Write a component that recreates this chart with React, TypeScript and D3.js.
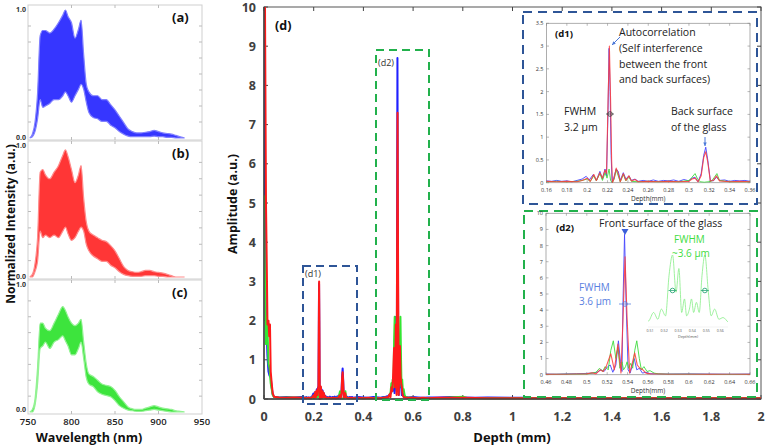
import React from 'react';
import * as d3 from 'd3';

// ---------- Spectra (a)-(c): envelope of the fringe band ----------
const wavelengths = [752, 755, 758, 761, 764, 767, 770, 775, 780, 785, 790, 793, 796, 800, 804, 808, 811, 814, 817, 820, 825, 830, 835, 840, 845, 850, 855, 860, 865, 870, 875, 880, 885, 890, 895, 900, 905, 910, 915, 920, 925, 930];
const blueUpper = [0, 0.03, 0.12, 0.35, 0.8, 0.84, 0.84, 0.82, 0.85, 0.9, 0.96, 1.0, 0.95, 0.9, 0.78, 0.85, 0.92, 0.65, 0.42, 0.36, 0.33, 0.33, 0.3, 0.3, 0.26, 0.22, 0.17, 0.12, 0.07, 0.05, 0.04, 0.04, 0.045, 0.05, 0.06, 0.05, 0.04, 0.035, 0.03, 0.02, 0.01, 0];
const blueLower = [0, 0.01, 0.05, 0.15, 0.3, 0.24, 0.25, 0.27, 0.3, 0.3, 0.33, 0.36, 0.33, 0.28, 0.33, 0.38, 0.42, 0.38, 0.28, 0.2, 0.16, 0.15, 0.13, 0.13, 0.1, 0.08, 0.05, 0.03, 0.015, 0.01, 0.01, 0.01, 0.01, 0.01, 0.015, 0.01, 0.01, 0.005, 0.005, 0, 0, 0];
const redUpper = [0, 0.02, 0.1, 0.3, 0.8, 0.82, 0.78, 0.75, 0.8, 0.85, 0.93, 0.97, 0.92, 0.82, 0.72, 0.78, 0.85, 0.6, 0.42, 0.35, 0.32, 0.3, 0.28, 0.27, 0.24, 0.2, 0.14, 0.08, 0.05, 0.04, 0.035, 0.04, 0.05, 0.05, 0.04, 0.035, 0.03, 0.02, 0.01, 0, 0, 0];
const redLower = [0, 0, 0.04, 0.12, 0.35, 0.3, 0.32, 0.3, 0.32, 0.3, 0.35, 0.38, 0.33, 0.28, 0.3, 0.35, 0.38, 0.35, 0.25, 0.2, 0.16, 0.14, 0.12, 0.12, 0.09, 0.07, 0.04, 0.02, 0.01, 0.005, 0.005, 0.005, 0.01, 0.01, 0.01, 0.005, 0.005, 0, 0, 0, 0, 0];
const greenUpper = [0, 0.02, 0.1, 0.35, 0.7, 0.7, 0.66, 0.64, 0.7, 0.77, 0.83, 0.8, 0.75, 0.7, 0.68, 0.7, 0.73, 0.55, 0.38, 0.3, 0.28, 0.25, 0.22, 0.21, 0.2, 0.17, 0.12, 0.08, 0.04, 0.025, 0.02, 0.02, 0.03, 0.04, 0.05, 0.04, 0.03, 0.025, 0.02, 0.01, 0.005, 0];
const greenLower = [0, 0, 0.05, 0.22, 0.5, 0.52, 0.55, 0.5, 0.55, 0.57, 0.6, 0.56, 0.52, 0.45, 0.45, 0.5, 0.55, 0.42, 0.27, 0.22, 0.2, 0.16, 0.14, 0.13, 0.12, 0.09, 0.05, 0.03, 0.015, 0.01, 0.005, 0.005, 0.01, 0.015, 0.02, 0.015, 0.01, 0.005, 0, 0, 0, 0];
const specXTicks = [750, 800, 850, 900, 950];
const specYTicks = [0, 1];
const specMinorTicks = [0.125, 0.25, 0.375, 0.5, 0.625, 0.75, 0.875];

// ---------- Depth profiles (mm, a.u.) ----------
const blueTrace: [number, number][] = [
  [0, 9.2], [0.004, 5], [0.008, 1.6], [0.011, 1.7], [0.014, 1.1], [0.018, 0.7], [0.022, 0.6], [0.027, 0.55], [0.031, 0.3], [0.035, 0.12], [0.04, 0.06], [0.06, 0.04], [0.09, 0.05], [0.12, 0.04], [0.15, 0.05],
  [0.16, 0.04], [0.165, 0.03], [0.17, 0.05], [0.175, 0.03], [0.18, 0.04], [0.185, 0.02], [0.19, 0.05], [0.195, 0.08], [0.199, 0.14], [0.202, 0.06], [0.206, 0.18], [0.209, 0.05], [0.2125, 0.25], [0.215, 0.08], [0.2175, 0.3], [0.219, 0.15], [0.2205, 1.6], [0.2215, 2.95], [0.2225, 2.0], [0.2235, 0.6], [0.2245, 0.0], [0.226, 0.1], [0.2285, 0.3], [0.2305, 0.25], [0.2325, 0.05], [0.2355, 0.22], [0.238, 0.08], [0.241, 0.15], [0.2435, 0.05], [0.247, 0.08], [0.25, 0.03], [0.255, 0.05], [0.26, 0.03], [0.265, 0.06], [0.27, 0.03], [0.275, 0.05], [0.28, 0.04], [0.285, 0.06], [0.29, 0.03], [0.295, 0.07], [0.3, 0.04], [0.303, 0.1], [0.306, 0.12], [0.309, 0.02], [0.312, 0.2], [0.3145, 0.6], [0.3165, 0.78], [0.3185, 0.5], [0.321, 0.05], [0.324, 0.04], [0.327, 0.12], [0.33, 0.05], [0.335, 0.06], [0.34, 0.03], [0.345, 0.05], [0.35, 0.04], [0.355, 0.05], [0.36, 0.03],
  [0.38, 0.05], [0.4, 0.04], [0.42, 0.03], [0.44, 0.05],
  [0.46, 0.04], [0.47, 0.03], [0.48, 0.05], [0.49, 0.06], [0.5, 0.08], [0.505, 0.1], [0.51, 0.15], [0.514, 0.3], [0.517, 0.2], [0.5205, 0.5], [0.523, 0.6], [0.5255, 0.15], [0.5285, 0.6], [0.531, 2.1], [0.533, 0.8], [0.5345, 0.2], [0.5355, 4.5], [0.537, 8.7], [0.5385, 4.5], [0.5405, 0.3], [0.5425, 0.1], [0.5448, 0.6], [0.5465, 1.0], [0.549, 0.3], [0.5515, 0.4], [0.5545, 0.1], [0.558, 0.15], [0.562, 0.06], [0.57, 0.05], [0.58, 0.04], [0.6, 0.05], [0.62, 0.04], [0.64, 0.03], [0.66, 0.04],
  [0.7, 0.04], [0.75, 0.05], [0.8, 0.04], [0.85, 0.03], [0.9, 0.04], [1.0, 0.03], [1.2, 0.03], [1.4, 0.02], [1.6, 0.03], [1.8, 0.02], [2.0, 0.02],
];
const redTrace: [number, number][] = [
  [0, 14], [0.004, 10], [0.008, 5], [0.011, 3.5], [0.014, 1.9], [0.018, 2.0], [0.021, 1.6], [0.024, 1.9], [0.027, 0.7], [0.031, 0.4], [0.035, 0.15], [0.04, 0.06], [0.06, 0.04], [0.09, 0.03], [0.12, 0.04], [0.15, 0.03],
  [0.16, 0.03], [0.17, 0.02], [0.18, 0.03], [0.19, 0.02], [0.195, 0.05], [0.2, 0.1], [0.203, 0.03], [0.2065, 0.18], [0.209, 0.05], [0.2125, 0.22], [0.215, 0.1], [0.2175, 0.28], [0.219, 0.2], [0.2205, 1.8], [0.2218, 3.0], [0.223, 1.8], [0.224, 0.5], [0.2248, 0.0], [0.2265, 0.1], [0.2285, 0.32], [0.2305, 0.2], [0.2325, 0.02], [0.2355, 0.2], [0.238, 0.05], [0.241, 0.15], [0.2435, 0.04], [0.247, 0.07], [0.25, 0.02], [0.26, 0.03], [0.27, 0.02], [0.28, 0.03], [0.29, 0.02], [0.3, 0.03], [0.303, 0.08], [0.306, 0.1], [0.309, 0.02], [0.312, 0.15], [0.3145, 0.55], [0.3165, 0.68], [0.3185, 0.45], [0.321, 0.04], [0.324, 0.05], [0.327, 0.15], [0.33, 0.04], [0.34, 0.02], [0.35, 0.03], [0.36, 0.02],
  [0.38, 0.03], [0.4, 0.02], [0.42, 0.03], [0.44, 0.02],
  [0.46, 0.02], [0.48, 0.03], [0.49, 0.04], [0.5, 0.05], [0.505, 0.12], [0.509, 0.05], [0.513, 0.3], [0.516, 0.2], [0.519, 0.5], [0.5235, 1.3], [0.527, 0.3], [0.5305, 1.9], [0.5335, 0.1], [0.5355, 3.5], [0.5375, 7.3], [0.5395, 3.5], [0.542, 0.1], [0.5445, 0.7], [0.547, 1.35], [0.5495, 0.6], [0.552, 0.4], [0.555, 0.3], [0.558, 0.1], [0.562, 0.05], [0.57, 0.04], [0.58, 0.03], [0.6, 0.03], [0.62, 0.02], [0.64, 0.03], [0.66, 0.02],
  [0.7, 0.03], [0.8, 0.03], [0.9, 0.02], [1.0, 0.02], [1.2, 0.02], [1.4, 0.02], [1.6, 0.02], [1.8, 0.02], [2.0, 0.02],
];
const greenTrace: [number, number][] = [
  [0, 5.2], [0.004, 3.0], [0.008, 1.4], [0.011, 2.1], [0.014, 1.8], [0.018, 0.9], [0.022, 0.8], [0.027, 0.4], [0.031, 0.25], [0.035, 0.1], [0.04, 0.05], [0.06, 0.03], [0.1, 0.04], [0.15, 0.03],
  [0.16, 0.02], [0.17, 0.03], [0.18, 0.02], [0.19, 0.03], [0.195, 0.05], [0.2, 0.08], [0.203, 0.03], [0.2065, 0.15], [0.209, 0.04], [0.2125, 0.2], [0.215, 0.05], [0.2175, 0.22], [0.2195, 0.1], [0.2215, 0.3], [0.223, 0.05], [0.2245, 0.0], [0.2265, 0.08], [0.2285, 0.28], [0.2305, 0.15], [0.2325, 0.02], [0.2355, 0.18], [0.238, 0.04], [0.241, 0.12], [0.2435, 0.03], [0.25, 0.02], [0.26, 0.03], [0.27, 0.02], [0.28, 0.03], [0.29, 0.02], [0.3, 0.05], [0.303, 0.12], [0.306, 0.2], [0.3085, 0.08], [0.311, 0.02], [0.315, 0.01], [0.319, 0.02], [0.322, 0.03], [0.325, 0.12], [0.3275, 0.2], [0.33, 0.05], [0.34, 0.02], [0.35, 0.02], [0.36, 0.02],
  [0.4, 0.02], [0.44, 0.02],
  [0.46, 0.02], [0.48, 0.03], [0.5, 0.04], [0.505, 0.1], [0.509, 0.15], [0.5125, 0.4], [0.5155, 0.2], [0.518, 0.5], [0.521, 0.3], [0.5235, 1.5], [0.526, 2.1], [0.5285, 1.0], [0.5305, 1.7], [0.5325, 0.4], [0.5345, 0.8], [0.536, 0.3], [0.538, 0.5], [0.5395, 0.8], [0.541, 0.4], [0.543, 0.7], [0.545, 0.4], [0.547, 1.5], [0.549, 2.1], [0.5515, 1.0], [0.5535, 0.3], [0.556, 0.5], [0.559, 0.2], [0.562, 0.25], [0.566, 0.1], [0.57, 0.05], [0.58, 0.03], [0.6, 0.03], [0.62, 0.02], [0.66, 0.02],
  [0.7, 0.02], [0.8, 0.06], [0.82, 0.02], [0.9, 0.02], [1.0, 0.02], [1.2, 0.02], [1.4, 0.02], [1.6, 0.02], [1.8, 0.02], [2.0, 0.02],
];

const mainXTicks = [0, 0.2, 0.4, 0.6, 0.8, 1, 1.2, 1.4, 1.6, 1.8, 2];
const mainYTicks = [0, 1, 2, 3, 4, 5, 6, 7, 8, 9, 10];
const d1XTicks = [0.16, 0.18, 0.2, 0.22, 0.24, 0.26, 0.28, 0.3, 0.32, 0.34, 0.36];
const d1YTicks = [0, 0.5, 1, 1.5, 2, 2.5, 3, 3.5];
const d2XTicks = [0.46, 0.48, 0.5, 0.52, 0.54, 0.56, 0.58, 0.6, 0.62, 0.64, 0.66];
const d2YTicks = [0, 1, 2, 3, 4, 5, 6, 7, 8, 9, 10];
const miniXTicks = [0.51, 0.52, 0.53, 0.54, 0.55, 0.56];

const FONT = "'Open Sans', 'Liberation Sans', sans-serif";
const fmt = (v: number) => String(+v.toFixed(2));

type Trace = { data: [number, number][]; color: string; width: number; opacity?: number };

function SpecPanel({ top, bottom, upper, lower, color, light, label, showX }: any) {
  const x = d3.scaleLinear().domain([750, 950]).range([28, 202]);
  const y = d3.scaleLinear().domain([0, 1]).range([bottom - 2, top + 5]);
  const rows = wavelengths.map((w, i) => ({ w, u: upper[i], l: lower[i] }));
  const area = d3.area<any>().x(d => x(d.w)).y0(d => y(d.l)).y1(d => y(d.u)).curve(d3.curveMonotoneX);
  return (
    <g>
      <rect x={28} y={top} width={174} height={bottom - top} fill="white" stroke="#cfcfcf" strokeWidth={1} />
      {specMinorTicks.map(t => (
        <g key={t}>
          <line x1={28} x2={31} y1={y(t)} y2={y(t)} stroke="#bbb" />
          <line x1={199} x2={202} y1={y(t)} y2={y(t)} stroke="#bbb" />
        </g>
      ))}
      {specXTicks.slice(1, -1).map(t => (
        <g key={t}>
          <line x1={x(t)} x2={x(t)} y1={bottom} y2={bottom - 3} stroke="#bbb" />
          <line x1={x(t)} x2={x(t)} y1={top} y2={top + 3} stroke="#bbb" />
        </g>
      ))}
      <path d={area(rows) || ''} fill={color} fillOpacity={0.88} stroke={light} strokeWidth={1.2} />
      <text x={26} y={y(1)} dy="0.35em" textAnchor="end" fontFamily={FONT} fontWeight={700} fontSize={7} fill="#333">{specYTicks[1].toFixed(1)}</text>
      <text x={26} y={y(0) - (showX ? 2 : 0.5)} dy="0.35em" textAnchor="end" fontFamily={FONT} fontWeight={700} fontSize={7} fill="#333">{specYTicks[0].toFixed(1)}</text>
      <text x={172} y={top + 17} fontFamily={FONT} fontWeight={700} fontSize={13} fill="#111">{label}</text>
      {showX && specXTicks.map(t => (
        <text key={t} x={x(t)} y={425} textAnchor="middle" fontFamily={FONT} fontWeight={600} fontSize={9.5} fill="#222">{t}</text>
      ))}
    </g>
  );
}

function InsetPlot({ id, xd, yd, xr, yr, xTicks, yTicks, traces, fontSize = 5.5 }: any) {
  const x = d3.scaleLinear().domain(xd).range(xr);
  const y = d3.scaleLinear().domain(yd).range(yr);
  const line = d3.line<[number, number]>().x(d => x(d[0])).y(d => y(d[1]));
  return (
    <g>
      <defs>
        <clipPath id={id}><rect x={xr[0]} y={yr[1]} width={xr[1] - xr[0]} height={yr[0] - yr[1]} /></clipPath>
      </defs>
      <rect x={xr[0]} y={yr[1]} width={xr[1] - xr[0]} height={yr[0] - yr[1]} fill="white" stroke="#9a9a9a" strokeWidth={0.8} />
      {xTicks.map((t: number) => (
        <g key={t}>
          <line x1={x(t)} x2={x(t)} y1={yr[0]} y2={yr[0] - 2.5} stroke="#888" strokeWidth={0.6} />
          <line x1={x(t)} x2={x(t)} y1={yr[1]} y2={yr[1] + 2.5} stroke="#888" strokeWidth={0.6} />
          <text x={x(t)} y={yr[0] + 9} textAnchor="middle" fontFamily={FONT} fontSize={fontSize} fill="#333">{fmt(t)}</text>
        </g>
      ))}
      {yTicks.map((t: number) => (
        <g key={t}>
          <line x1={xr[0]} x2={xr[0] + 2.5} y1={y(t)} y2={y(t)} stroke="#888" strokeWidth={0.6} />
          <line x1={xr[1]} x2={xr[1] - 2.5} y1={y(t)} y2={y(t)} stroke="#888" strokeWidth={0.6} />
          <text x={xr[0] - 3} y={y(t)} dy="0.35em" textAnchor="end" fontFamily={FONT} fontSize={fontSize} fill="#333">{fmt(t)}</text>
        </g>
      ))}
      <g clipPath={`url(#${id})`}>
        {traces.map((tr: Trace, i: number) => (
          <path key={i} d={line(tr.data.filter(d => d[0] >= xd[0] - 0.01 && d[0] <= xd[1] + 0.01)) || ''} fill="none" stroke={tr.color} strokeWidth={tr.width} strokeOpacity={tr.opacity ?? 1} strokeLinejoin="round" />
        ))}
      </g>
      <text x={(xr[0] + xr[1]) / 2} y={yr[0] + 18} textAnchor="middle" fontFamily={FONT} fontSize={6.5} fill="#333">Depth(mm)</text>
    </g>
  );
}

function MainPlot() {
  const x0 = 264, x1 = 761, yTop = 7, yBot = 399;
  const x = d3.scaleLinear().domain([0, 2]).range([x0, x1]);
  const y = d3.scaleLinear().domain([0, 10]).range([yBot, yTop]);
  const line = d3.line<[number, number]>().x(d => x(d[0])).y(d => y(d[1]));
  const traces: Trace[] = [
    { data: blueTrace, color: '#2020ff', width: 2 },
    { data: greenTrace, color: '#33e633', width: 2 },
    { data: redTrace, color: '#ff1a1a', width: 2 },
  ];
  return (
    <g>
      <defs>
        <clipPath id="mainClip"><rect x={x0} y={yTop} width={x1 - x0} height={yBot - yTop + 1} /></clipPath>
      </defs>
      <rect x={x0} y={yTop} width={x1 - x0} height={yBot - yTop} fill="white" stroke="#555" strokeWidth={1} />
      {mainYTicks.map(t => (
        <g key={t}>
          <line x1={x0} x2={x0 + 4} y1={y(t)} y2={y(t)} stroke="#444" />
          <line x1={x1} x2={x1 - 4} y1={y(t)} y2={y(t)} stroke="#444" />
          <text x={256} y={y(t)} dy="0.36em" textAnchor="end" fontFamily={FONT} fontWeight={700} fontSize={12.5} fill="#404040">{t}</text>
        </g>
      ))}
      {mainXTicks.map(t => (
        <g key={t}>
          <line x1={x(t)} x2={x(t)} y1={yBot} y2={yBot - 4} stroke="#444" />
          <line x1={x(t)} x2={x(t)} y1={yTop} y2={yTop + 4} stroke="#444" />
          <text x={x(t)} y={421} textAnchor="middle" fontFamily={FONT} fontWeight={700} fontSize={12.5} fill="#404040">{fmt(t)}</text>
        </g>
      ))}
      <g clipPath="url(#mainClip)">
        {traces.map((tr, i) => (
          <path key={i} d={line(tr.data) || ''} fill="none" stroke={tr.color} strokeWidth={tr.width} strokeLinejoin="round" />
        ))}
      </g>
      <line x1={x0} x2={x0} y1={yTop} y2={yBot} stroke="#444" strokeWidth={1.5} />
      <line x1={x0} x2={x1} y1={yBot} y2={yBot} stroke="#444" strokeWidth={1.5} />
      <text x={275} y={30} fontFamily={FONT} fontWeight={700} fontSize={12.5} fill="#111">(d)</text>
      <rect x={376} y={50} width={53} height={350} fill="none" stroke="#22b14c" strokeWidth={2} strokeDasharray="8 5" />
      <text x={378} y={66} fontFamily={FONT} fontSize={9} fill="#333">(d2)</text>
      <rect x={303} y={266} width={54} height={138} fill="none" stroke="#2e5597" strokeWidth={2} strokeDasharray="8 5" />
      <text x={305} y={277} fontFamily={FONT} fontSize={9} fill="#333">(d1)</text>
      <text x={512} y={442} textAnchor="middle" fontFamily={FONT} fontWeight={700} fontSize={13} fill="#111">Depth (mm)</text>
      <text transform="translate(232.5,204) rotate(-90)" textAnchor="middle" dominantBaseline="central" fontFamily={FONT} fontWeight={700} fontSize={12.5} fill="#111">Amplitude (a.u.)</text>
    </g>
  );
}

function Arrow({ x1, y1, x2, y2, color }: any) {
  const ang = Math.atan2(y2 - y1, x2 - x1);
  const h = 4;
  const p1 = [x2 - h * Math.cos(ang - 0.45), y2 - h * Math.sin(ang - 0.45)];
  const p2 = [x2 - h * Math.cos(ang + 0.45), y2 - h * Math.sin(ang + 0.45)];
  return (
    <g>
      <line x1={x1} y1={y1} x2={x2} y2={y2} stroke={color} strokeWidth={1} />
      <polygon points={`${x2},${y2} ${p1[0]},${p1[1]} ${p2[0]},${p2[1]}`} fill={color} />
    </g>
  );
}

function FwhmMark({ cx, cy, half, color }: any) {
  return (
    <g>
      <line x1={cx - half} x2={cx + half} y1={cy} y2={cy} stroke={color} strokeWidth={0.8} />
      <circle cx={cx} cy={cy} r={2.3} fill="none" stroke={color} strokeWidth={0.9} />
    </g>
  );
}

function MiniInset({ traces }: any) {
  const xd = [0.5085, 0.5655];
  const x = d3.scaleLinear().domain(xd).range([648, 728]);
  const y = d3.scaleLinear().domain([0, 2.1]).range([326, 255]);
  const line = d3.line<[number, number]>().x(d => x(d[0])).y(d => y(d[1])).curve(d3.curveMonotoneX);
  return (
    <g>
      <defs>
        <clipPath id="miniClip"><rect x={648} y={240} width={80} height={90} /></clipPath>
      </defs>
      <line x1={648} x2={728} y1={327} y2={327} stroke="#e4e4e4" strokeWidth={0.5} />
      <g clipPath="url(#miniClip)">
        {traces.map((tr: Trace, i: number) => (
          <path key={i} d={line(tr.data.filter(d => d[0] >= 0.505 && d[0] <= 0.57)) || ''} fill="none" stroke={tr.color} strokeWidth={tr.width} />
        ))}
      </g>
      {miniXTicks.map(t => (
        <text key={t} x={x(t)} y={332} textAnchor="middle" fontFamily={FONT} fontSize={3.6} fill="#555">{fmt(t)}</text>
      ))}
      <text x={688} y={338} textAnchor="middle" fontFamily={FONT} fontSize={3.8} fill="#555">Depth(mm)</text>
      <FwhmMark cx={x(0.526)} cy={y(1.05)} half={4} color="#2fa878" />
      <FwhmMark cx={x(0.549)} cy={y(1.05)} half={4} color="#2fa878" />
    </g>
  );
}

export default function App() {
  const insetTraces: Trace[] = [
    { data: blueTrace, color: '#4646ff', width: 1, opacity: 0.9 },
    { data: greenTrace, color: '#3fdc3f', width: 1, opacity: 0.9 },
    { data: redTrace, color: '#ff3a3a', width: 1.1, opacity: 0.85 },
  ];
  const miniTraces: Trace[] = [{ data: greenTrace, color: '#86ee86', width: 0.8 }];
  const tx = { fontFamily: FONT, fontSize: 10.5, fill: '#222' } as any;
  const tx2 = { fontFamily: FONT, fontSize: 10 } as any;
  return (
    <div style={{ position: 'absolute', left: 0, top: 0 }}>
      <svg width={767} height={447} viewBox="0 0 767 447" style={{ display: 'block', background: 'white' }}>
        <SpecPanel top={5} bottom={140} upper={blueUpper} lower={blueLower} color="#1a1aff" light="#8080ff" label="(a)" />
        <SpecPanel top={141} bottom={279} upper={redUpper} lower={redLower} color="#ff1a1a" light="#ff8c8c" label="(b)" />
        <SpecPanel top={280} bottom={414} upper={greenUpper} lower={greenLower} color="#22e022" light="#93f293" label="(c)" showX />
        <text transform="translate(10,224) rotate(-90)" textAnchor="middle" dominantBaseline="central" fontFamily={FONT} fontWeight={700} fontSize={12} fill="#111">Normalized Intensity (a.u.)</text>
        <text x={89} y={442} textAnchor="middle" fontFamily={FONT} fontWeight={700} fontSize={12.5} fill="#111">Wavelength (nm)</text>

        <MainPlot />

        <rect x={523} y={12} width={234} height={192} fill="white" stroke="#2e5597" strokeWidth={2} strokeDasharray="9 6" />
        <InsetPlot id="clipD1" xd={[0.16, 0.36]} yd={[0, 3.5]} xr={[546.5, 750]} yr={[182.7, 23.3]} xTicks={d1XTicks} yTicks={d1YTicks} traces={insetTraces} />
        <text x={555} y={37} fontFamily={FONT} fontWeight={700} fontSize={9.5} fill="#111">(d1)</text>
        <text x={619} y={36} {...tx}>Autocorrelation</text>
        <text x={619} y={52} {...tx}>(Self interference</text>
        <text x={619} y={67.5} {...tx}>between the front</text>
        <text x={619} y={83} {...tx}>and back surfaces)</text>
        <text x={564} y={115} {...tx}>FWHM</text>
        <text x={564} y={131} {...tx}>3.2 µm</text>
        <text x={671} y={115} {...tx}>Back surface</text>
        <text x={671} y={131} {...tx}>of the glass</text>
        <Arrow x1={620} y1={37} x2={612} y2={45} color="#4a78d8" />
        <Arrow x1={705} y1={137} x2={705} y2={146} color="#4a78d8" />
        <FwhmMark cx={610} cy={114} half={4} color="#444" />

        <rect x={524} y={211} width={233} height={186} fill="white" stroke="#22b14c" strokeWidth={2} strokeDasharray="9 6" />
        <InsetPlot id="clipD2" xd={[0.46, 0.66]} yd={[0, 10]} xr={[546, 750]} yr={[374.7, 213.3]} xTicks={d2XTicks} yTicks={d2YTicks} traces={insetTraces} />
        <text x={556} y={231} fontFamily={FONT} fontWeight={700} fontSize={9.5} fill="#111">(d2)</text>
        <text x={599} y={227} {...tx}>Front surface of the glass</text>
        <polygon points="621.5,229 628.5,229 625,235" fill="#3b5fd8" />
        <text x={579} y={290.5} {...tx2} fill="#5a80e0">FWHM</text>
        <text x={579} y={305} {...tx2} fill="#5a80e0">3.6 µm</text>
        <FwhmMark cx={625} cy={304} half={6} color="#5a80e0" />
        <MiniInset traces={miniTraces} />
        <text x={674} y={242.5} {...tx2} fill="#3fdc3f">FWHM</text>
        <text x={672} y={257} {...tx2} fill="#3fdc3f">~3.6 µm</text>
      </svg>
    </div>
  );
}
